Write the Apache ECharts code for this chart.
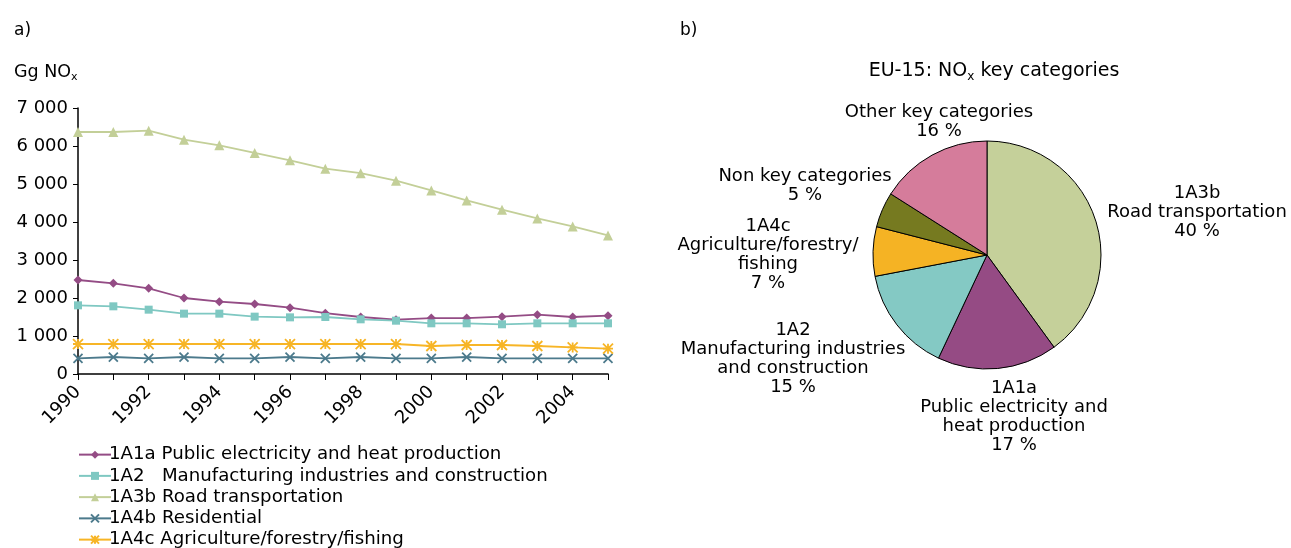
<!DOCTYPE html>
<html><head><meta charset="utf-8">
<script src="https://cdn.jsdelivr.net/npm/echarts@6/dist/echarts.min.js"></script>
<style>html,body{margin:0;padding:0;background:#fff}#c{width:1291px;height:548px}</style>
</head><body><div id="c"></div>
<script>
const years = ['1990','1991','1992','1993','1994','1995','1996','1997','1998','1999','2000','2001','2002','2003','2004','2005'];
const s1A1a = [2474,2386,2254,2000,1904,1842,1746,1600,1500,1430,1473,1473,1508,1561,1500,1535];
const s1A2  = [1807,1781,1693,1588,1588,1509,1491,1500,1439,1403,1334,1334,1308,1334,1334,1334];
const s1A3b = [6368,6368,6404,6167,6018,5816,5623,5404,5285,5087,4830,4568,4324,4095,3884,3647];
const s1A4b = [412,447,412,447,412,412,447,412,447,412,412,447,412,412,412,412];
const s1A4c = [789,789,789,789,789,789,789,789,789,789,737,763,763,737,700,666];
const lineNames = ['1A1a Public electricity and heat production','1A2   Manufacturing industries and construction','1A3b Road transportation','1A4b Residential','1A4c Agriculture/forestry/fishing'];
const pieNames = ['1A3b\nRoad transportation','1A1a\nPublic electricity and\nheat production','1A2\nManufacturing industries\nand construction','1A4c\nAgriculture/forestry/\nfishing','Non key categories','Other key categories'];
const pieValues = [40,17,15,7,5,16];

const lineColors = ['#944c85','#7fc8c2','#c3cf98','#4c7a8c','#f7b526'];
const pieColors = ['#c5d09a','#954b84','#84c9c4','#f5b324','#767a20','#d57c9b'];
const symbols = ['diamond','rect','triangle','path://M-1,-1L1,1M1,-1L-1,1','path://M0,-1L0,1M-1,-1L1,1M1,-1L-1,1M-1,0L1,0'];
const symSizes = [9,8,10,9,10];
const FONT = 'DejaVu Sans';
const seriesData = [s1A1a,s1A2,s1A3b,s1A4b,s1A4c];
// label anchor centres for pie labels (layout only)
const pieLabelAnchors = [[1197,212],[1014,417],[793,359],[768,255],[805,186],[939,122]];

const chart = echarts.init(document.getElementById('c'));
const rich = {a:{fontSize:17.5,fontFamily:FONT,color:'#000',fontWeight:'normal'},s:{fontSize:11,fontFamily:FONT,color:'#000',fontWeight:'normal',padding:[11,0,0,0]}};
const rich2 = {a:{fontSize:19,fontFamily:FONT,color:'#000',fontWeight:'normal'},s:{fontSize:12,fontFamily:FONT,color:'#000',fontWeight:'normal',padding:[11,0,0,0]}};
chart.setOption({
  animation:false,
  textStyle:{fontFamily:FONT,color:'#000'},
  title:[
    {text:'a)',left:9,top:17,textStyle:{fontSize:17,fontWeight:'normal',fontFamily:FONT,color:'#000'}},
    {text:'b)',left:675,top:17,textStyle:{fontSize:17,fontWeight:'normal',fontFamily:FONT,color:'#000'}},
    {text:'{a|Gg NO}{s|x}',left:9,top:56,textStyle:{rich}},
    {text:'{a|EU-15: NO}{s|x}{a| key categories}',left:989,textAlign:'center',top:55,textStyle:{rich:rich2}}
  ],
  grid:{left:78,top:108,width:530,height:266,containLabel:false},
  xAxis:{type:'category',data:years,boundaryGap:false,
    axisLine:{lineStyle:{color:'#000',width:1.5}},
    axisTick:{show:true,length:6,interval:0,lineStyle:{color:'#000'}},
    axisLabel:{rotate:45,interval:1,fontSize:18,color:'#000',fontFamily:FONT,margin:15}},
  yAxis:{type:'value',min:0,max:7000,interval:1000,
    axisLine:{show:true,lineStyle:{color:'#000',width:1.5}},
    axisTick:{show:true,length:5,lineStyle:{color:'#000'}},
    splitLine:{show:false},
    axisLabel:{fontSize:18,color:'#000',fontFamily:FONT,margin:10,formatter:v=>v===0?'0':(v/1000)+' 000'}},
  legend:{orient:'vertical',left:73,top:439,height:140,itemGap:0,itemWidth:32,itemHeight:10,
    textStyle:{fontSize:18.2,lineHeight:21.25,color:'#000',fontFamily:FONT,padding:[0,0,0,-7]},
    data:lineNames},
  series:[
    ...seriesData.map((d,i)=>({type:'line',name:lineNames[i],data:d,symbol:symbols[i],symbolSize:symSizes[i],
      lineStyle:{color:lineColors[i],width:1.8},
      itemStyle:{color:lineColors[i],borderColor:lineColors[i],borderWidth:(i>=3?1.8:0)}})),
    {type:'pie',center:[987,255],radius:114,startAngle:90,clockwise:true,
      data:pieNames.map((n,i)=>({name:n,value:pieValues[i]})),
      itemStyle:{borderColor:'#000',borderWidth:1},
      color:pieColors,
      label:{show:true,position:'outside',overflow:'none',formatter:p=>p.name+'\n'+p.value+' %',fontSize:18,lineHeight:19,color:'#000',fontFamily:FONT,align:'center'},
      labelLine:{show:false},
      labelLayout:p=>{const a=pieLabelAnchors[p.dataIndex];return {x:a[0],y:a[1],align:'center',verticalAlign:'middle'};}}
  ]
});
</script></body></html>
